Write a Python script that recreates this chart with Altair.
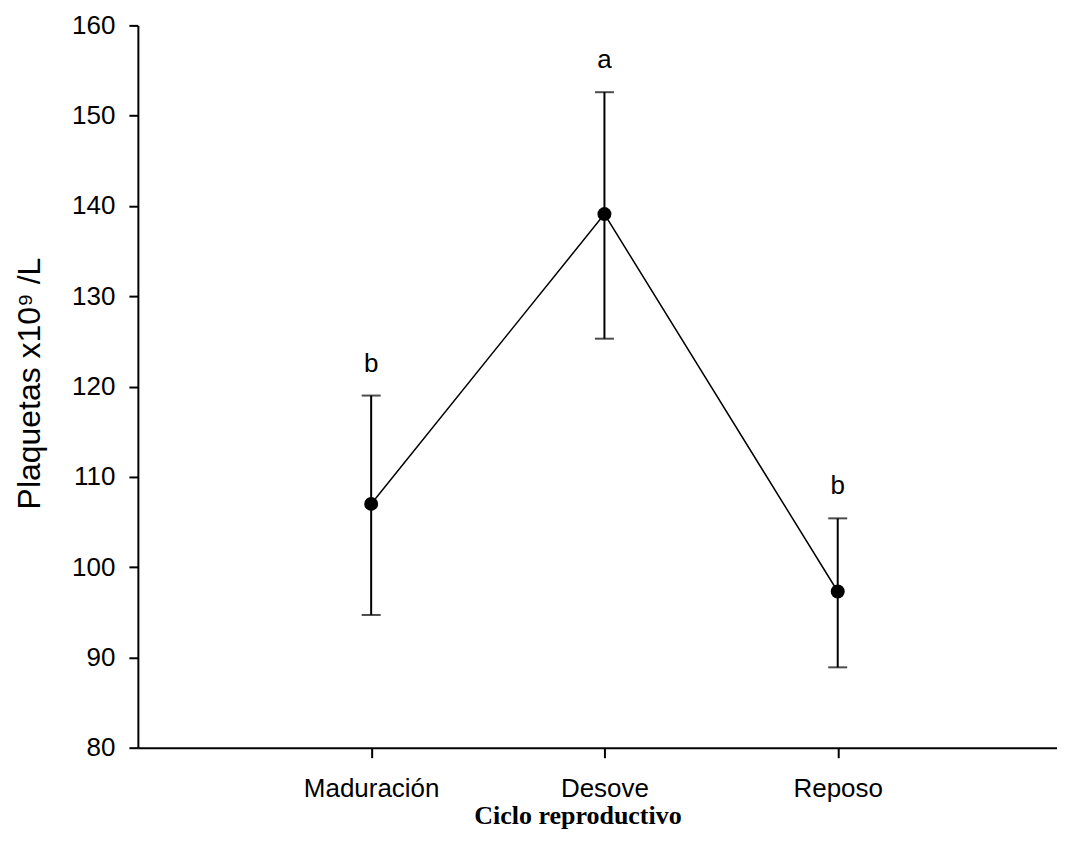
import altair as alt
import pandas as pd

categories = ["Maduración", "Desove", "Reposo"]
positions = [1, 2, 3]
means = [107.0, 139.1, 97.3]
upper = [119.0, 152.6, 105.4]
lower = [94.7, 125.3, 88.9]
letters = ["b", "a", "b"]

df = pd.DataFrame({
    "pos": positions,
    "cat": categories,
    "mean": means,
    "upper": upper,
    "lower": lower,
    "letter": letters,
})

label_expr = ("datum.value == 1 ? 'Maduración' : datum.value == 2 ? 'Desove' : "
              "datum.value == 3 ? 'Reposo' : ''")

x_enc = alt.X(
    "pos:Q",
    scale=alt.Scale(domain=[0, 3.94], nice=False, zero=False),
    axis=alt.Axis(
        values=positions,
        labelExpr=label_expr,
        title="Ciclo reproductivo",
        titleFont="Liberation Serif",
        titleFontWeight="bold",
        titleFontSize=26,
        titleBaseline="alphabetic",
        titleX=440,
        titleY=76,
        labelFont="Liberation Sans",
        labelFontSize=26,
        labelPadding=18,
        tickSize=10,
        tickWidth=2,
        domainWidth=2,
        domainColor="black",
        tickColor="black",
        labelColor="black",
        titleColor="black",
        grid=False,
    ),
)

y_scale = alt.Scale(domain=[80, 160], nice=False, zero=False)
y_axis = alt.Axis(
    values=[80, 90, 100, 110, 120, 130, 140, 150, 160],
    title="Plaquetas x10⁹ /L",
    titleFont="Liberation Sans",
    titleFontWeight="normal",
    titleFontSize=32,
    titleBaseline="alphabetic",
    titleAngle=270,
    titleX=-98,
    titleY=358,
    labelFont="Liberation Sans",
    labelFontSize=26,
    labelPadding=14,
    tickSize=9,
    tickWidth=2,
    domainWidth=2,
    domainColor="black",
    tickColor="black",
    labelColor="black",
    titleColor="black",
    grid=False,
)

base = alt.Chart(df)

line = base.mark_line(color="black", strokeWidth=1.5).encode(
    x=x_enc,
    y=alt.Y("mean:Q", scale=y_scale, axis=y_axis),
)

rules = base.mark_rule(color="black", strokeWidth=2).encode(
    x="pos:Q",
    y="lower:Q",
    y2="upper:Q",
)

caps_up = base.mark_tick(color="black", orient="horizontal", size=19, thickness=2).encode(
    x="pos:Q",
    y="upper:Q",
)
caps_low = base.mark_tick(color="black", orient="horizontal", size=19, thickness=2).encode(
    x="pos:Q",
    y="lower:Q",
)

points = base.mark_point(filled=True, color="black", size=195, opacity=1).encode(
    x="pos:Q",
    y="mean:Q",
)

texts = base.mark_text(
    font="Liberation Sans", fontSize=26, color="black", baseline="middle", dy=-32
).encode(
    x="pos:Q",
    y="upper:Q",
    text="letter:N",
)

chart = alt.layer(line, rules, caps_up, caps_low, points, texts).properties(
    width=920,
    height=723,
    background="white",
    autosize=alt.AutoSizeParams(type="none"),
    padding={"left": 130, "top": 17, "right": 0, "bottom": 90},
).configure_view(stroke="transparent", strokeWidth=0)

chart.save("out.html", embed_options={"renderer": "svg", "actions": False})
